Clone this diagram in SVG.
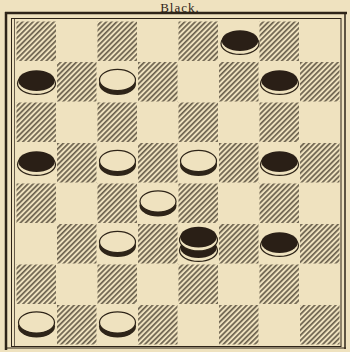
<svg xmlns="http://www.w3.org/2000/svg" xmlns:xlink="http://www.w3.org/1999/xlink" width="350" height="352" viewBox="0 0 350 352">
<style>
.ink{stroke:#2e2418;fill:none}
.hatch{fill:url(#hp)}
.title{font-family:"Liberation Serif","DejaVu Serif",serif;font-size:13px;letter-spacing:1px;fill:#2e2418}
</style>
<defs>
<pattern id="hp" patternUnits="userSpaceOnUse" width="3.7" height="20" patternTransform="rotate(45)">
<line x1="1.8" y1="0" x2="1.8" y2="20" stroke="#2e2418" stroke-width="1.15"/>
</pattern>
<g id="white">
<ellipse cx="0" cy="2" rx="18.5" ry="11" fill="#2e2418"/>
<ellipse cx="0" cy="-2" rx="18" ry="10.6" fill="#efe2bf" stroke="#2e2418" stroke-width="1.2"/>
</g>
<g id="black">
<ellipse cx="0" cy="1.6" rx="19" ry="10.8" fill="#efe2bf" stroke="#2e2418" stroke-width="1.2"/>
<ellipse cx="0" cy="-1.4" rx="18.2" ry="10.4" fill="#2a1f16"/>
</g>
<g id="king">
<use xlink:href="#black" y="5"/>
<use xlink:href="#black" y="-5.5"/>
</g>
</defs>
<rect width="350" height="352" fill="#efe2bf"/>
<text class="title" x="180" y="11.8" text-anchor="middle">Black.</text>
<g id="frame">
<line class="ink" x1="5" y1="13" x2="347" y2="13" stroke-width="2.5"/>
<line class="ink" x1="6" y1="12" x2="6" y2="350" stroke-width="2.5"/>
<line class="ink" x1="345" y1="12" x2="345" y2="349" stroke-width="1.5"/>
<line class="ink" x1="5" y1="348" x2="346" y2="348" stroke-width="1"/>
<rect class="ink" x="11.5" y="18.5" width="329.5" height="328" stroke-width="1"/>
<line class="ink" x1="14.5" y1="19" x2="14.5" y2="346" stroke-width="0.7"/>
</g>
<g id="board">
<rect class="hatch" x="16.5" y="21.5" width="39.5" height="39.5"/>
<rect class="hatch" x="97.5" y="21.5" width="39.5" height="39.5"/>
<rect class="hatch" x="178.5" y="21.5" width="39.5" height="39.5"/>
<rect class="hatch" x="259.5" y="21.5" width="39.5" height="39.5"/>
<rect class="hatch" x="57" y="62" width="39.5" height="39.5"/>
<rect class="hatch" x="138" y="62" width="39.5" height="39.5"/>
<rect class="hatch" x="219" y="62" width="39.5" height="39.5"/>
<rect class="hatch" x="300" y="62" width="39.5" height="39.5"/>
<rect class="hatch" x="16.5" y="102.5" width="39.5" height="39.5"/>
<rect class="hatch" x="97.5" y="102.5" width="39.5" height="39.5"/>
<rect class="hatch" x="178.5" y="102.5" width="39.5" height="39.5"/>
<rect class="hatch" x="259.5" y="102.5" width="39.5" height="39.5"/>
<rect class="hatch" x="57" y="143" width="39.5" height="39.5"/>
<rect class="hatch" x="138" y="143" width="39.5" height="39.5"/>
<rect class="hatch" x="219" y="143" width="39.5" height="39.5"/>
<rect class="hatch" x="300" y="143" width="39.5" height="39.5"/>
<rect class="hatch" x="16.5" y="183.5" width="39.5" height="39.5"/>
<rect class="hatch" x="97.5" y="183.5" width="39.5" height="39.5"/>
<rect class="hatch" x="178.5" y="183.5" width="39.5" height="39.5"/>
<rect class="hatch" x="259.5" y="183.5" width="39.5" height="39.5"/>
<rect class="hatch" x="57" y="224" width="39.5" height="39.5"/>
<rect class="hatch" x="138" y="224" width="39.5" height="39.5"/>
<rect class="hatch" x="219" y="224" width="39.5" height="39.5"/>
<rect class="hatch" x="300" y="224" width="39.5" height="39.5"/>
<rect class="hatch" x="16.5" y="264.5" width="39.5" height="39.5"/>
<rect class="hatch" x="97.5" y="264.5" width="39.5" height="39.5"/>
<rect class="hatch" x="178.5" y="264.5" width="39.5" height="39.5"/>
<rect class="hatch" x="259.5" y="264.5" width="39.5" height="39.5"/>
<rect class="hatch" x="57" y="305" width="39.5" height="39.5"/>
<rect class="hatch" x="138" y="305" width="39.5" height="39.5"/>
<rect class="hatch" x="219" y="305" width="39.5" height="39.5"/>
<rect class="hatch" x="300" y="305" width="39.5" height="39.5"/>
</g>
<g id="pieces">
<g id="b-f1"><use xlink:href="#black" x="240" y="42"/></g>
<g id="b-a2"><use xlink:href="#black" x="36.5" y="82"/></g>
<g id="b-g2"><use xlink:href="#black" x="279.5" y="82"/></g>
<g id="w-c2"><use xlink:href="#white" x="117.5" y="82"/></g>
<g id="b-a4"><use xlink:href="#black" x="36.5" y="163"/></g>
<g id="w-c4"><use xlink:href="#white" x="117.5" y="163"/></g>
<g id="w-e4"><use xlink:href="#white" x="198.5" y="163"/></g>
<g id="b-g4"><use xlink:href="#black" x="279.5" y="163"/></g>
<g id="w-d5"><use xlink:href="#white" x="158" y="203.5"/></g>
<g id="w-c6"><use xlink:href="#white" x="117.5" y="244"/></g>
<g id="bk-e6"><use xlink:href="#king" x="198.5" y="244"/></g>
<g id="b-g6"><use xlink:href="#black" x="279.5" y="244"/></g>
<g id="w-a8"><use xlink:href="#white" x="36.5" y="324.5"/></g>
<g id="w-c8"><use xlink:href="#white" x="117.5" y="324.5"/></g>
</g>
</svg>
